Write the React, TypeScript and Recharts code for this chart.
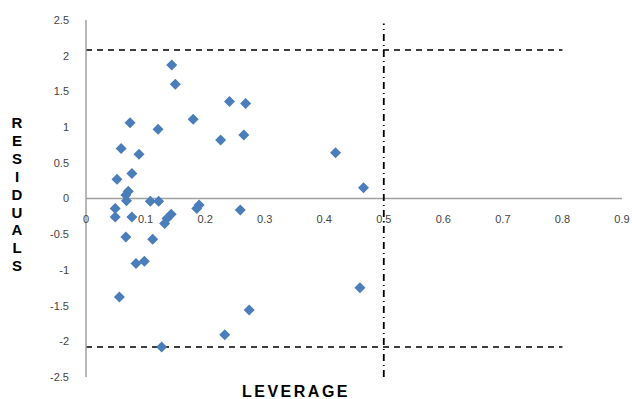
import { ReferenceLine, Scatter, ScatterChart, XAxis, YAxis } from 'recharts';

// leverage (x) and standardized residuals (y)
const leverage = [
  0.144, 0.150, 0.180, 0.241, 0.268, 0.226, 0.265, 0.074, 0.121, 0.059,
  0.089, 0.077, 0.052, 0.071, 0.067, 0.419, 0.466, 0.068, 0.108, 0.122,
  0.049, 0.049, 0.077, 0.143, 0.136, 0.132, 0.190, 0.186, 0.259, 0.067,
  0.112, 0.084, 0.098, 0.056, 0.274, 0.233, 0.127, 0.460,
];
const residuals = [
  1.87, 1.60, 1.11, 1.36, 1.33, 0.82, 0.89, 1.06, 0.97, 0.70,
  0.62, 0.35, 0.27, 0.10, 0.05, 0.64, 0.15, -0.03, -0.04, -0.04,
  -0.14, -0.26, -0.26, -0.22, -0.28, -0.35, -0.09, -0.14, -0.16, -0.54,
  -0.57, -0.91, -0.88, -1.38, -1.56, -1.91, -2.08, -1.25,
];

const xTicks = [0, 0.1, 0.2, 0.3, 0.4, 0.5, 0.6, 0.7, 0.8, 0.9];
const yTicks = [-2.5, -2, -1.5, -1, -0.5, 0, 0.5, 1, 1.5, 2, 2.5];
const limit = 2.08;
const leverageCut = 0.5;

const data = leverage.map((x, i) => ({ x, y: residuals[i] }));

const W = 632;
const H = 399;
const TOP = 20;
const BOTTOM = 22;
const PLOT_H = H - TOP - BOTTOM;
const zeroY = TOP + PLOT_H / 2;
const font = '"Liberation Sans", Arial, sans-serif';

const Diamond = (props: any) => {
  const { cx, cy } = props;
  const r = 5.5;
  return <path d={`M${cx},${cy - r}L${cx + r},${cy}L${cx},${cy + r}L${cx - r},${cy}Z`} fill="#4a7ebb" />;
};

const XTick = (props: any) => {
  const { x, payload } = props;
  return (
    <text x={x} y={zeroY + 24} textAnchor="middle" fontSize={11} fill="#444" fontFamily={font}>
      {payload.value}
    </text>
  );
};

const YTitle = () => {
  const letters = 'RESIDUALS'.split('');
  return (
    <text fontSize={15} fontWeight="bold" fill="#000" fontFamily={font} textAnchor="middle">
      {letters.map((c, i) => (
        <tspan key={i} x={17} y={128 + i * 17.9}>{c}</tspan>
      ))}
    </text>
  );
};

const XTitle = () => (
  <text x={296} y={397} fontSize={16} fontWeight="bold" fill="#000" fontFamily={font} textAnchor="middle" letterSpacing={2.5}>
    LEVERAGE
  </text>
);

export default function App() {
  return (
    <div style={{ position: 'absolute', left: 0, top: 0, width: W, height: H, overflow: 'hidden' }}>
      <ScatterChart width={W} height={H} margin={{ top: TOP, right: 10, left: 0, bottom: BOTTOM - 1 }}>
        <XAxis
          type="number"
          dataKey="x"
          domain={[0, 0.9]}
          ticks={xTicks}
          interval={0}
          height={1}
          axisLine={false}
          tickLine={false}
          tick={<XTick />}
          label={{ content: <XTitle /> }}
        />
        <YAxis
          type="number"
          dataKey="y"
          domain={[-2.5, 2.5]}
          ticks={yTicks}
          interval={0}
          width={86}
          axisLine={{ stroke: '#a0a0a0', strokeWidth: 1.5 }}
          tickLine={false}
          tickSize={0}
          tickMargin={17}
          tick={{ fontSize: 11, fill: '#444', fontFamily: font }}
          label={{ content: <YTitle /> }}
        />
        <ReferenceLine segment={[{ x: 0, y: 0 }, { x: 0.9, y: 0 }]} stroke="#a0a0a0" strokeWidth={1.5} />
        <ReferenceLine segment={[{ x: 0, y: limit }, { x: 0.8, y: limit }]} stroke="#000" strokeWidth={1.5} strokeDasharray="6 5" />
        <ReferenceLine segment={[{ x: 0, y: -limit }, { x: 0.8, y: -limit }]} stroke="#000" strokeWidth={1.5} strokeDasharray="6 5" />
        <ReferenceLine segment={[{ x: leverageCut, y: -2.5 }, { x: leverageCut, y: 2.45 }]} stroke="#000" strokeWidth={1.8} strokeDasharray="7 4 1 4" />
        <Scatter data={data} shape={<Diamond />} isAnimationActive={false} />
      </ScatterChart>
    </div>
  );
}
